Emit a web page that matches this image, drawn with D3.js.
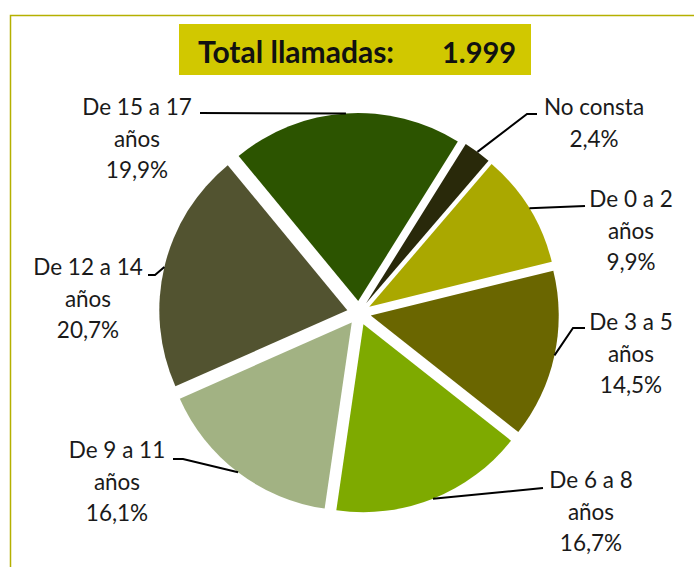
<!DOCTYPE html>
<html>
<head>
<meta charset="utf-8">
<script src="https://cdn.jsdelivr.net/npm/d3@7.9.0/dist/d3.min.js"></script>
<style>
  body { margin: 0; background: #fff; }
  svg { display: block; }
</style>
</head>
<body>
<svg id="chart" width="694" height="567"></svg>
<script>
// Data
const categories = ["No consta", "De 0 a 2 años", "De 3 a 5 años", "De 6 a 8 años",
                    "De 9 a 11 años", "De 12 a 14 años", "De 15 a 17 años"];
const labelLines = [["No consta", "2,4%"], ["De 0 a 2", "años", "9,9%"], ["De 3 a 5", "años", "14,5%"],
                    ["De 6 a 8", "años", "16,7%"], ["De 9 a 11", "años", "16,1%"],
                    ["De 12 a 14", "años", "20,7%"], ["De 15 a 17", "años", "19,9%"]];
const percents = [2.4, 9.9, 14.5, 16.7, 16.1, 20.7, 19.9];
const totalCalls = "1.999";

// Styling / layout
const colors = ["#29290a", "#aaa800", "#6a6600", "#7eaa00", "#a2b283", "#525330", "#2c5400"];
const cx = 359, cy = 313, radius = 188, explode = 12;
const startDeg = 32;
// label block: centre x, first baseline y, leader start x, elbow x
const labelPos = [
  { x: 594, y: 115, lx: 537, ex: 527, ly: 114 },
  { x: 631, y: 207, lx: 585, ex: 585, ly: 206 },
  { x: 631, y: 330, lx: 585, ex: 573, ly: 328 },
  { x: 591, y: 488, lx: 543, ex: 543, ly: 488 },
  { x: 117, y: 458, lx: 173, ex: 183, ly: 459 },
  { x: 88,  y: 275, lx: 148, ex: 155, ly: 275 },
  { x: 137, y: 115, lx: 200, ex: 200, ly: 113 }
];

const svg = d3.select("#chart");

// outer frame
svg.append("rect")
  .attr("x", 10.5).attr("y", 15.5)
  .attr("width", 720).attr("height", 600)
  .attr("fill", "none")
  .attr("stroke", "#b5b000")
  .attr("stroke-width", 1.5);

// title box
svg.append("rect")
  .attr("x", 179).attr("y", 24)
  .attr("width", 352).attr("height", 51)
  .attr("fill", "#d1c800");

svg.append("text")
  .attr("x", 198).attr("y", 63)
  .attr("font-family", "Lato, 'Open Sans', sans-serif")
  .attr("font-weight", "bold")
  .attr("font-size", 30)
  .attr("fill", "#111")
  .text("Total llamadas:");

svg.append("text")
  .attr("x", 442).attr("y", 63)
  .attr("font-family", "Lato, 'Open Sans', sans-serif")
  .attr("font-weight", "bold")
  .attr("font-size", 29)
  .attr("fill", "#111")
  .text(totalCalls);

// pie
const pieData = percents.map((v, i) => ({ label: categories[i], value: v, idx: i }));
const pie = d3.pie().sort(null).value(d => d.value)
  .startAngle(startDeg * Math.PI / 180)
  .endAngle(startDeg * Math.PI / 180 + 2 * Math.PI);
const arcs = pie(pieData);
const arcGen = d3.arc().innerRadius(0).outerRadius(radius);

const g = svg.append("g").attr("transform", `translate(${cx},${cy})`);

g.selectAll("path")
  .data(arcs)
  .join("path")
  .attr("d", arcGen)
  .attr("fill", d => colors[d.data.idx])
  .attr("transform", d => {
    const a = (d.startAngle + d.endAngle) / 2;
    return `translate(${explode * Math.sin(a)},${-explode * Math.cos(a)})`;
  });

// leader lines
arcs.forEach((d, i) => {
  const a = (d.startAngle + d.endAngle) / 2;
  const px = cx + (radius + explode) * Math.sin(a);
  const py = cy - (radius + explode) * Math.cos(a);
  const p = labelPos[i];
  svg.append("path")
    .attr("d", `M${p.lx},${p.ly}L${p.ex},${p.ly}L${px},${py}`)
    .attr("fill", "none")
    .attr("stroke", "#000")
    .attr("stroke-width", 2);
});

// labels
labelLines.forEach((lines, i) => {
  const p = labelPos[i];
  const t = svg.append("text")
    .attr("text-anchor", "middle")
    .attr("font-family", "Lato, 'Open Sans', sans-serif")
    .attr("font-size", 22.5)
    .attr("fill", "#1a1a1a");
  lines.forEach((s, j) => {
    t.append("tspan").attr("x", p.x).attr("y", p.y + j * 31.5).text(s);
  });
});
</script>
</body>
</html>
